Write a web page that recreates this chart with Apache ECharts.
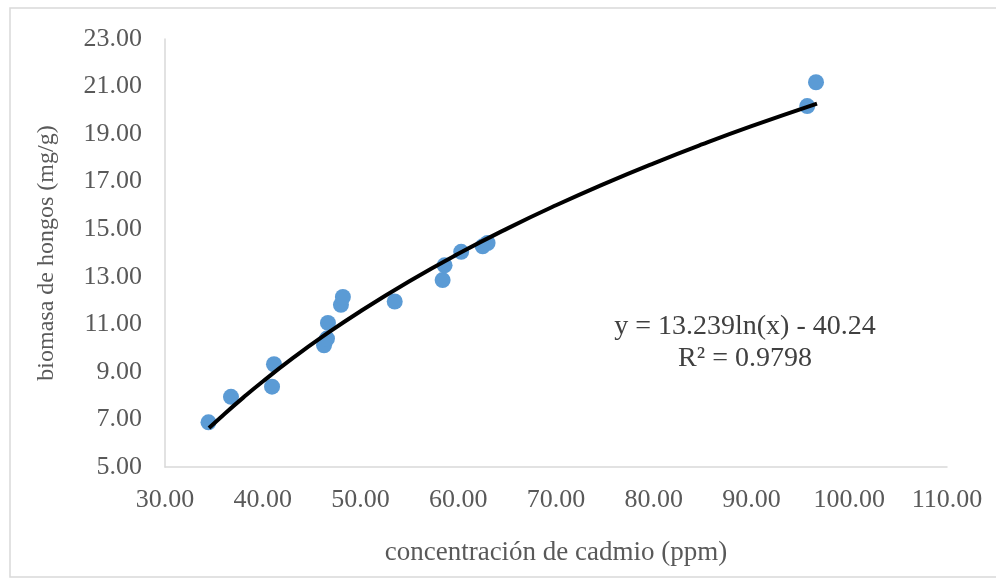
<!DOCTYPE html>
<html><head><meta charset="utf-8">
<script src="https://cdn.jsdelivr.net/npm/echarts@6/dist/echarts.min.js"></script>
<style>html,body{margin:0;padding:0;background:#fff}#c{width:996px;height:579px}</style>
</head><body><div id="c"></div>
<script>
// scatter data
const cadmio  = [34.45, 36.75, 40.95, 41.15, 46.27, 46.57, 46.67, 48.0, 48.2, 53.5, 58.4, 58.6, 60.3, 62.5, 63.0, 95.7, 96.6];
const biomasa = [6.88, 7.95, 8.38, 9.32, 10.12, 10.40, 11.06, 11.82, 12.15, 11.96, 12.86, 13.48, 14.05, 14.28, 14.42, 20.18, 21.18];
// logarithmic trendline shown in the chart: y = a ln(x) + b
const trendA = 13.239;
const trendB = -40.24;
const trendXs = [34.5, 36, 38, 40, 43, 46, 50, 55, 60, 65, 70, 75, 80, 85, 90, 96.7];
const eqText = 'y = 13.239ln(x) - 40.24';
const r2Text = 'R² = 0.9798';

const pts = cadmio.map((x, i) => [x, biomasa[i]]);
const trend = trendXs.map(x => [x, trendA * Math.log(x) + trendB]);

const chart = echarts.init(document.getElementById('c'));
const font = '"Liberation Serif", "Times New Roman", serif';
chart.setOption({
  animation: false,
  grid: {left: 165, right: 49, top: 39, bottom: 112},
  xAxis: {
    type: 'value', min: 30, max: 110, interval: 10,
    axisLine: {show: true, lineStyle: {color: '#d9d9d9', width: 1.5}},
    axisTick: {show: false}, splitLine: {show: false},
    axisLabel: {formatter: v => v.toFixed(2), color: '#595959', fontFamily: font, fontSize: 26, margin: 20},
    name: 'concentración de cadmio (ppm)', nameLocation: 'middle', nameGap: 72,
    nameTextStyle: {color: '#595959', fontFamily: font, fontSize: 27}
  },
  yAxis: {
    type: 'value', min: 5, max: 23, interval: 2,
    axisLine: {show: true, lineStyle: {color: '#d9d9d9', width: 1.5}},
    axisTick: {show: false}, splitLine: {show: false},
    axisLabel: {formatter: v => v.toFixed(2), color: '#595959', fontFamily: font, fontSize: 26, margin: 23},
    name: 'biomasa de hongos (mg/g)', nameLocation: 'middle', nameGap: 106,
    nameTextStyle: {color: '#595959', fontFamily: font, fontSize: 24}
  },
  series: [
    {type: 'scatter', data: pts, symbolSize: 16, itemStyle: {color: '#5b9bd5', opacity: 1}, z: 2},
    {type: 'line', data: trend, smooth: true, showSymbol: false, lineStyle: {color: '#000', width: 4}, z: 3}
  ],
  graphic: [
    {type: 'rect', shape: {x: 10, y: 8, width: 995, height: 569}, style: {fill: 'none', stroke: '#d9d9d9', lineWidth: 1.5}},
    {type: 'text', x: 745, y: 327, style: {text: eqText, font: '28px ' + font, fill: '#404040', textAlign: 'center', textVerticalAlign: 'middle'}},
    {type: 'text', x: 745, y: 359, style: {text: r2Text, font: '28px ' + font, fill: '#404040', textAlign: 'center', textVerticalAlign: 'middle'}}
  ]
});
</script></body></html>
